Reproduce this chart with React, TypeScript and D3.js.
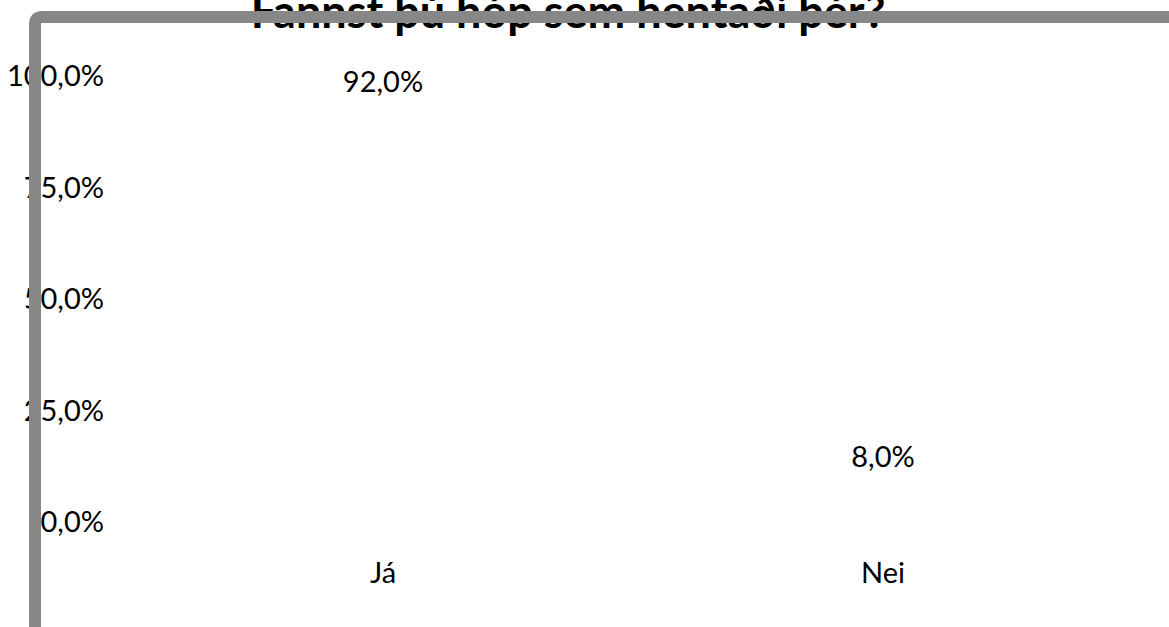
import React, { useEffect, useRef } from 'react';
import * as d3 from 'd3';

const title = 'Fannst þú hóp sem hentaði þér?';
const categories = ['Já', 'Nei'];
const values = [92.0, 8.0];
const yTicks = [0, 25, 50, 75, 100];

const fmt = (d: number) => d3.format('.1f')(d).replace('.', ',') + '%';

const App = () => {
  const chartRef = useRef<SVGSVGElement>(null);

  useEffect(() => {
    document.body.style.margin = '0';
    const width = 1169;
    const height = 627;
    const font = 'Lato, Calibri, sans-serif';

    const svg = d3.select(chartRef.current);
    svg.selectAll('*').remove();

    const x = d3.scaleBand().domain(categories).range([133, 1133]).paddingInner(0.3).paddingOuter(0.15);
    const y = d3.scaleLinear().domain([0, 100]).range([522, 75.5]);

    // bars (no fill in the original export)
    svg.selectAll('.bar')
      .data(values)
      .enter()
      .append('rect')
      .attr('class', 'bar')
      .attr('x', (d, i) => x(categories[i]) as number)
      .attr('width', x.bandwidth())
      .attr('y', d => y(d))
      .attr('height', d => y(0) - y(d))
      .attr('fill', 'none');

    // y tick labels
    svg.selectAll('.ytick')
      .data(yTicks)
      .enter()
      .append('text')
      .attr('class', 'ytick')
      .attr('x', 104)
      .attr('y', d => y(d))
      .attr('dy', '0.36em')
      .attr('text-anchor', 'end')
      .style('font-family', font)
      .style('font-size', '29px')
      .text(d => fmt(d));

    // data labels
    svg.selectAll('.dlabel')
      .data(values)
      .enter()
      .append('text')
      .attr('class', 'dlabel')
      .attr('x', (d, i) => (x(categories[i]) as number) + x.bandwidth() / 2)
      .attr('y', d => y(d) - 30)
      .attr('dy', '0.36em')
      .attr('text-anchor', 'middle')
      .style('font-family', font)
      .style('font-size', '29px')
      .text(d => fmt(d));

    // category labels
    svg.selectAll('.xlabel')
      .data(categories)
      .enter()
      .append('text')
      .attr('class', 'xlabel')
      .attr('x', d => (x(d) as number) + x.bandwidth() / 2)
      .attr('y', 573)
      .attr('dy', '0.36em')
      .attr('text-anchor', 'middle')
      .style('font-family', font)
      .style('font-size', '29px')
      .text(d => d);

    // title
    svg.append('text')
      .attr('x', 568)
      .attr('y', 28)
      .attr('text-anchor', 'middle')
      .style('font-family', font)
      .style('font-size', '45px')
      .style('font-weight', 'bold')
      .text(title);

    // chart frame, drawn over everything
    const r = 7;
    svg.append('path')
      .attr('d', `M35,${height + 20} L35,${17 + r} Q35,17 ${35 + r},17 L${width + 20},17`)
      .attr('fill', 'none')
      .attr('stroke', '#878787')
      .attr('stroke-width', 12);
  }, []);

  return (
    <svg ref={chartRef} width={1169} height={627} style={{ display: 'block', background: '#fff' }}></svg>
  );
};

export default App;
